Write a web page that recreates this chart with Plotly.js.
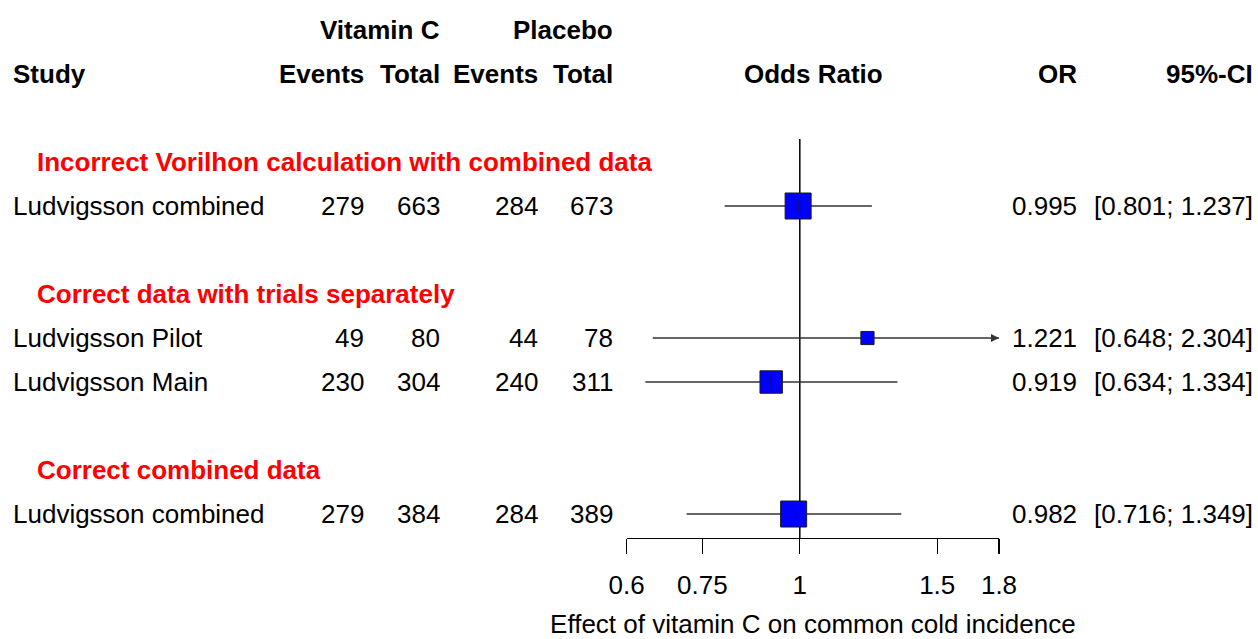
<!DOCTYPE html>
<html>
<head>
<meta charset="utf-8">
<script src="https://cdn.plot.ly/plotly-3.0.1.min.js"></script>
<style>html,body{margin:0;padding:0;background:#fff;}#chart{width:1258px;height:639px;}</style>
</head>
<body>
<div id="chart"></div>
<script>
// ---- data ----
var groupLabels = ["Incorrect Vorilhon calculation with combined data", "Correct data with trials separately", "Correct combined data"];
var studies   = ["Ludvigsson combined", "Ludvigsson Pilot", "Ludvigsson Main", "Ludvigsson combined"];
var studyGroup = [0, 1, 1, 2];
var vitEvents = [279, 49, 230, 279];
var vitTotal  = [663, 80, 304, 384];
var plaEvents = [284, 44, 240, 284];
var plaTotal  = [673, 78, 311, 389];
var orVals    = [0.995, 1.221, 0.919, 0.982];
var ciLower   = [0.801, 0.648, 0.634, 0.716];
var ciUpper   = [1.237, 2.304, 1.334, 1.349];
var weights   = [100, 25.6, 74.4, 100]; // within-subgroup weight (%)
var tickVals  = [0.6, 0.75, 1, 1.5, 1.8];
var tickText  = ["0.6", "0.75", "1", "1.5", "1.8"];
var xMin = 0.6, xMax = 1.8;

// ---- layout helpers (rows) ----
var FONT = "Liberation Sans, Arial, Helvetica, sans-serif";
var FS = 26;
var rows = [], groupRows = [];
var r = 3;
var lastG = -1;
studies.forEach(function(s, i) {
  if (studyGroup[i] !== lastG) {
    if (lastG !== -1) r += 1; // blank row
    groupRows.push(r); r += 1; lastG = studyGroup[i];
  }
  rows.push(r); r += 1;
});

var traces = [];
// reference line at OR = 1
traces.push({x: [1, 1], y: [2.477, 11.545], mode: "lines", line: {color: "#000", width: 1.5},
  hoverinfo: "skip", showlegend: false, cliponaxis: false});
// CI lines
studies.forEach(function(s, i) {
  traces.push({x: [Math.max(ciLower[i], xMin), Math.min(ciUpper[i], xMax)], y: [rows[i], rows[i]],
    mode: "lines", line: {color: "#333", width: 1.5}, hoverinfo: "skip", showlegend: false, cliponaxis: false});
});
// arrows for clipped CIs
var arrX = [], arrY = [];
studies.forEach(function(s, i) { if (ciUpper[i] > xMax) { arrX.push(xMax); arrY.push(rows[i]); } });
traces.push({x: arrX, y: arrY, mode: "markers", marker: {symbol: "arrow-right", size: 8, color: "#333", opacity: 1},
  hoverinfo: "skip", showlegend: false, cliponaxis: false});
// squares
traces.push({x: orVals, y: rows, mode: "markers",
  marker: {symbol: "square", color: "#0000FF", opacity: 1, size: weights.map(function(w){return 26*Math.sqrt(w/100);}),
    line: {color: "#1a1a1a", width: 1}}, hoverinfo: "skip", showlegend: false, cliponaxis: false});
// point estimate tick
traces.push({x: orVals, y: rows, mode: "markers",
  marker: {symbol: "line-ns", size: 10, opacity: 1, line: {color: "#1a1a1a", width: 1}}, hoverinfo: "skip", showlegend: false, cliponaxis: false});

var ann = [];
function txt(x, y, t, anchor, opts) {
  opts = opts || {};
  ann.push({xref: "x2", yref: "y2", x: x, y: y, text: t, showarrow: false, xanchor: anchor, yanchor: "middle",
    borderpad: 0, borderwidth: 0,
    font: {family: FONT, size: FS, color: opts.color || "#000"}});
}
// header
txt(440, 0, "<b>Vitamin C</b>", "right");
txt(613, 0, "<b>Placebo</b>", "right");
txt(13, 1, "<b>Study</b>", "left");
txt(364, 1, "<b>Events</b>", "right");
txt(440, 1, "<b>Total</b>", "right");
txt(538, 1, "<b>Events</b>", "right");
txt(613, 1, "<b>Total</b>", "right");
txt(813, 1, "<b>Odds Ratio</b>", "center");
txt(1077, 1, "<b>OR</b>", "right");
txt(1253, 1, "<b>95%-CI</b>", "right");
groupLabels.forEach(function(g, j) { txt(37, groupRows[j], "<b>" + g + "</b>", "left", {color: "#FF0000"}); });
studies.forEach(function(s, i) {
  var y = rows[i];
  txt(13, y, s, "left");
  txt(364, y, String(vitEvents[i]), "right");
  txt(440, y, String(vitTotal[i]), "right");
  txt(538, y, String(plaEvents[i]), "right");
  txt(613, y, String(plaTotal[i]), "right");
  txt(1077, y, orVals[i].toFixed(3), "right");
  txt(1253, y, "[" + ciLower[i].toFixed(3) + "; " + ciUpper[i].toFixed(3) + "]", "right");
});

var layout = {
  width: 1258, height: 639, margin: {l: 0, r: 0, t: 0, b: 0},
  paper_bgcolor: "#fff", plot_bgcolor: "rgba(0,0,0,0)", showlegend: false,
  font: {family: FONT, size: FS, color: "#000"},
  xaxis: {type: "log", domain: [626.7/1258, 999/1258], range: [Math.log10(xMin), Math.log10(xMax)],
    tickvals: tickVals, ticktext: tickText, ticks: "outside", ticklen: 15, tickwidth: 1.3, tickcolor: "#000",
    showline: true, linecolor: "#000", linewidth: 1.3, showgrid: false, zeroline: false, fixedrange: true,
    tickfont: {family: FONT, size: FS, color: "#000"}, ticklabelstandoff: 8,
    title: {text: "Effect of vitamin C on common cold incidence", font: {family: FONT, size: FS, color: "#000"}, standoff: 21},
    anchor: "y"},
  yaxis: {domain: [1 - 538/639, 1 - 139/639], range: [11.545, 2.477], visible: false, fixedrange: true, anchor: "x"},
  xaxis2: {domain: [0, 1], range: [0, 1258], visible: false, anchor: "y2", fixedrange: true},
  yaxis2: {domain: [0, 1], range: [(639 - 30) / 44, -30 / 44], visible: false, anchor: "x2", fixedrange: true},
  annotations: ann
};
Plotly.newPlot("chart", traces, layout, {displayModeBar: false, staticPlot: true});
</script>
</body>
</html>
